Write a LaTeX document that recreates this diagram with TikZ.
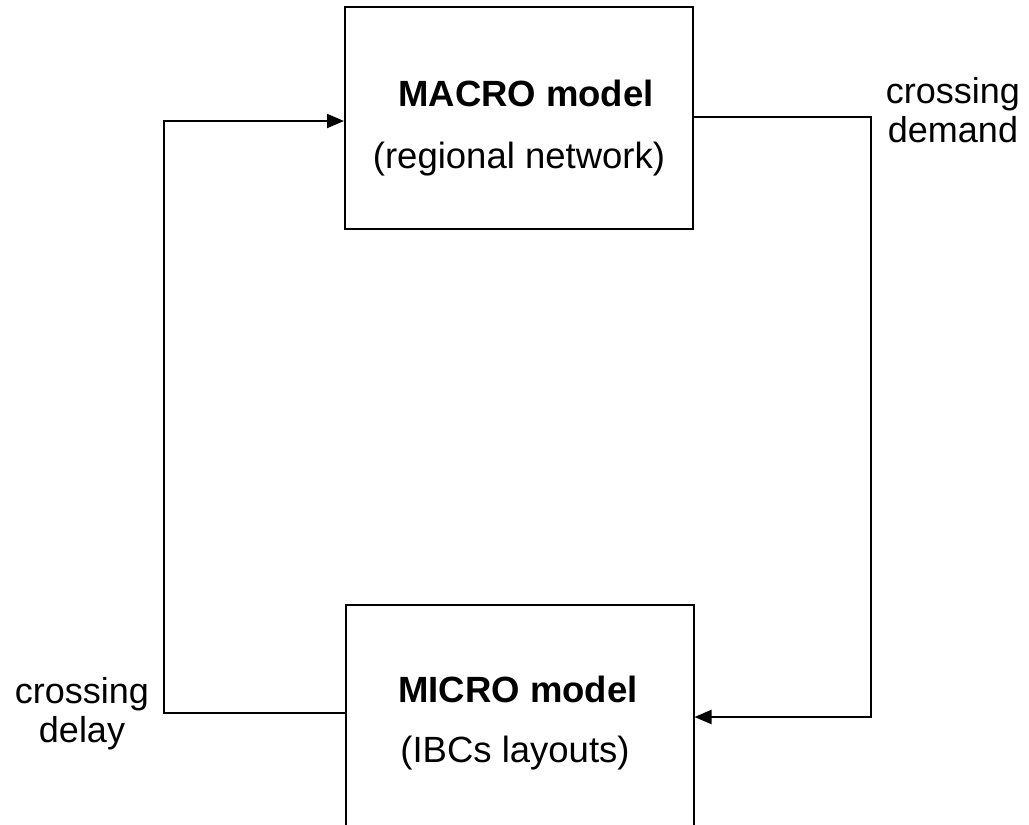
\documentclass[tikz,border=0pt]{standalone}
\usepackage{fontspec}
\setmainfont{Liberation Sans}
\usetikzlibrary{arrows.meta}
\begin{document}
\begin{tikzpicture}[x=1pt,y=-1pt,line width=2pt,
  box/.style={draw,minimum width=348pt,inner sep=0pt},
  txt/.style={inner sep=0pt,anchor=base,font=\fontsize{36.5}{39}\selectfont},
  lbl/.style={inner sep=0pt,anchor=base,align=center,font=\fontsize{36}{39}\selectfont},
  arr/.style={-{Triangle[length=17pt,width=14pt]}}]
\useasboundingbox (0,0) rectangle (1029,825);
\clip (0,0) rectangle (1029,825);
\node[box,minimum height=222pt] (macro) at (519,118) {};
\node[box,minimum height=226pt] (micro) at (519.5,718) {};
\node[txt] (macrot) at (526,106) {\textbf{MACRO model}};
\node[txt] (macros) at (519,168) {(regional network)};
\node[txt] (microt) at (518,702) {\textbf{MICRO model}};
\node[txt] (micros) at (515,762) {(IBCs layouts)};
\node[lbl] (demand) at (953,142) {crossing\\demand};
\node[lbl] (delay) at (82,742) {crossing\\delay};
\draw[arr] ([yshift=5pt]micro.west) -- ++(-181,0) |- ([yshift=-3pt]macro.west);
\draw[arr] ([yshift=1pt]macro.east) -- ++(177,0) |- ([yshift=1pt]micro.east);
\end{tikzpicture}
\end{document}
